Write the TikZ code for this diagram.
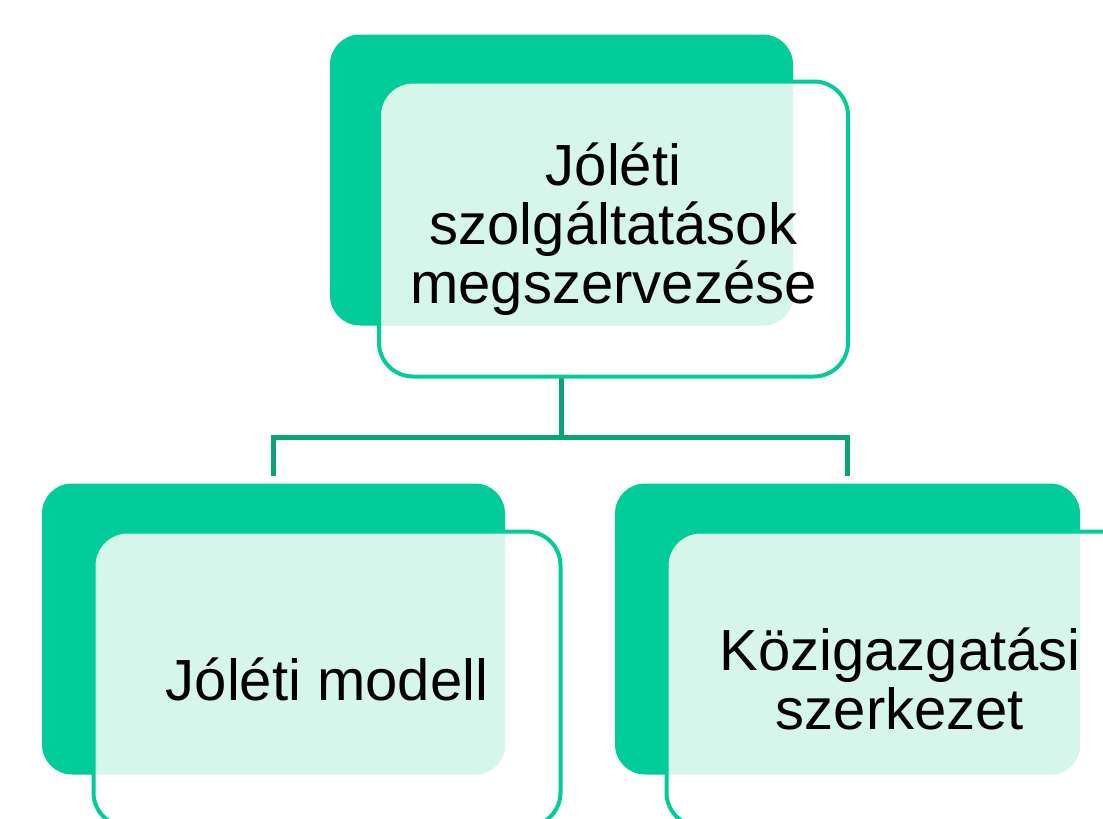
\documentclass[tikz,border=0pt]{standalone}
\usepackage{fontspec}
\setmainfont{Liberation Sans}
\definecolor{mint}{HTML}{02CC9A}
\definecolor{linkgreen}{HTML}{0AA37C}
\definecolor{tint}{HTML}{D6F6EC}
\pgfdeclarelayer{bg}
\pgfsetlayers{bg,main}
\begin{document}
\begin{tikzpicture}[x=1pt,y=-1pt,
  backbox/.style={draw=none, fill=mint, rounded corners=30pt, inner sep=0pt,
    minimum width=463pt, minimum height=291pt},
  frontbox/.style={draw=mint, line width=4pt, fill=white, rounded corners=34pt,
    minimum width=467pt, minimum height=295pt, inner sep=0pt, align=center,
    font=\fontsize{58}{59}\selectfont},
  link/.style={draw=linkgreen, line width=5pt}]
\useasboundingbox (0,0) rectangle (1103,819);
\clip (0,0) rectangle (1103,819);
% back boxes
\node[backbox] (tb) at (561.5,180) {};
\node[backbox] (lb) at (273.5,629) {};
\node[backbox, minimum width=465pt] (rb) at (847.5,629) {};
% front boxes
\node[frontbox, minimum width=469pt,
  path picture={\fill[tint, rounded corners=30pt] (tb.south west) rectangle (tb.north east);}]
  (tf) at (613.5,229) {Jóléti\\szolgáltatások\\megszervezése};
\node[frontbox,
  path picture={\fill[tint, rounded corners=30pt] (lb.south west) rectangle (lb.north east);}]
  (lf) at (327,679) {Jóléti modell};
\node[frontbox,
  path picture={\fill[tint, rounded corners=30pt] (rb.south west) rectangle (rb.north east);}]
  (rf) at (900,679) {Közigazgatási\\szerkezet};
% connectors
\coordinate (j) at (561.5,437);
\begin{pgfonlayer}{bg}
\draw[link] (tb.south) -- (j);
\draw[link, shorten >=7pt] (j) -| (lb.north);
\draw[link, shorten >=7pt] (j) -| (rb.north);
\end{pgfonlayer}
\end{tikzpicture}
\end{document}
